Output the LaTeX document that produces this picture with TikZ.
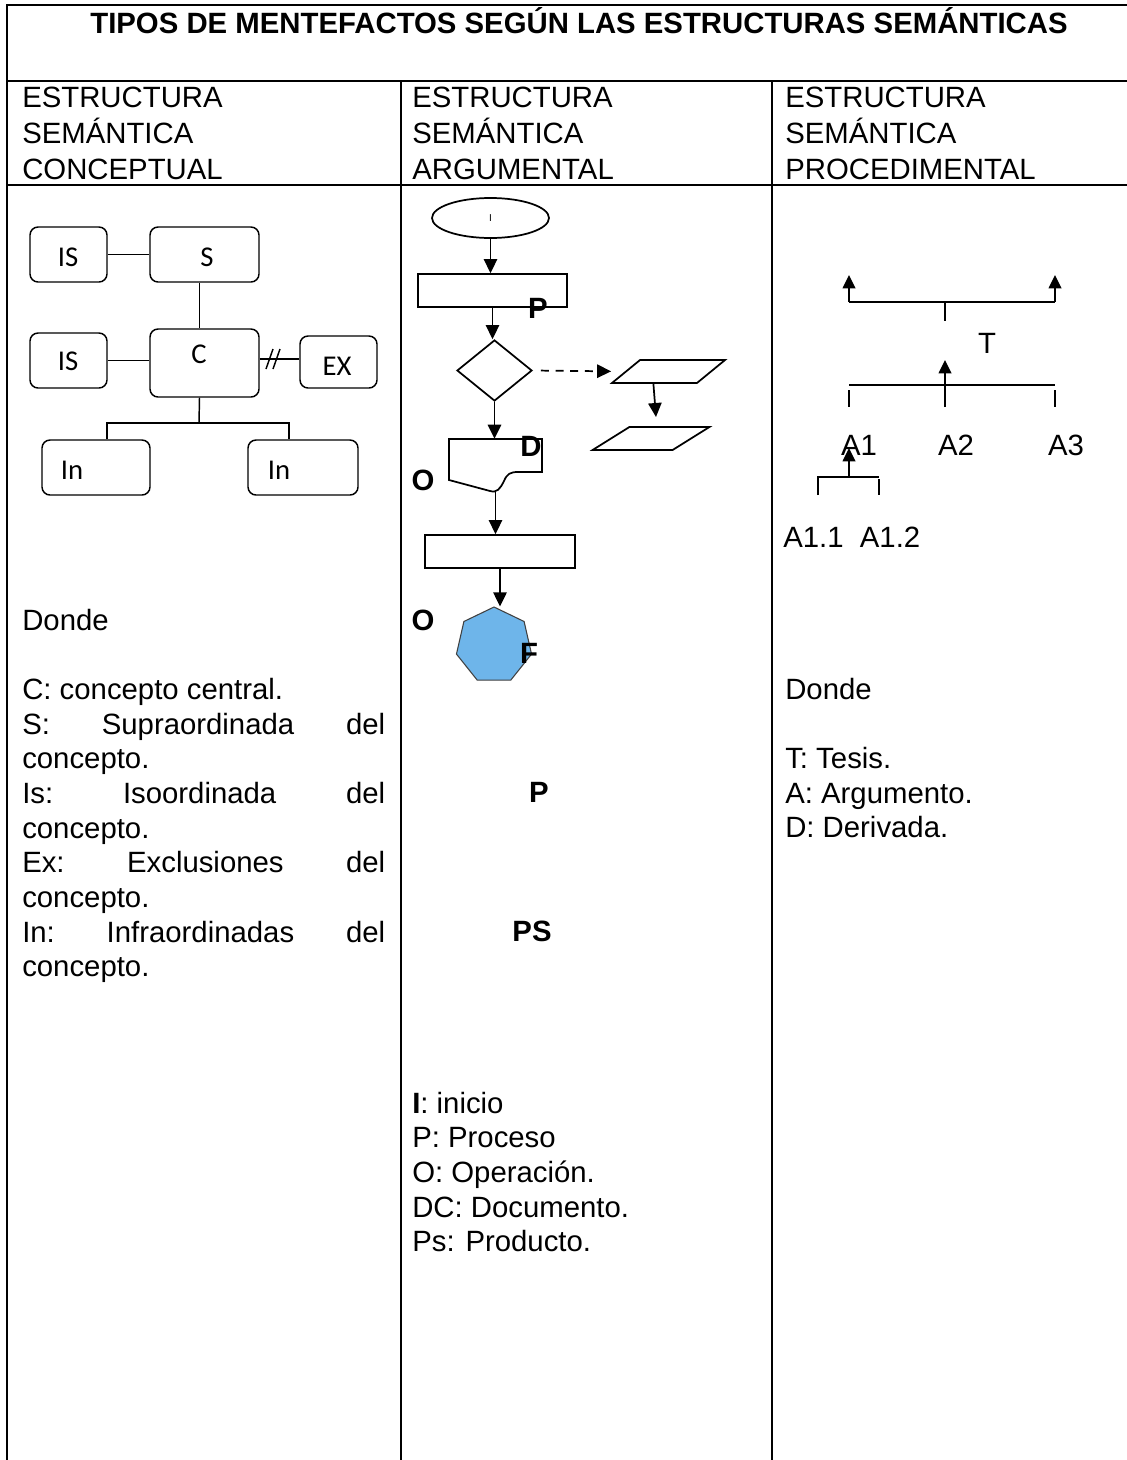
\documentclass[tikz,border=0pt]{standalone}
\usepackage{fontspec}
\setmainfont{Liberation Sans}
\newfontfamily\calib{Carlito}
\usetikzlibrary{arrows.meta,shapes.geometric,calc}
\newcommand\pxu{0.75pt}
\newlength\colw
\setlength\colw{272.25pt}
\definecolor{hept}{RGB}{110,181,234}
\begin{document}
\begin{tikzpicture}[x=0.75pt,y=-0.75pt,
 txt/.style={inner sep=0, font=\fontsize{22}{26}\selectfont},
 hdr/.style={inner sep=0, font=\fontsize{22}{27}\selectfont},
 lbl/.style={inner sep=0, font=\bfseries\fontsize{22}{26}\selectfont},
 cbx/.style={draw, line width=1.1pt, rounded corners=6pt, inner sep=0},
 clab/.style={inner sep=0, font=\calib\fontsize{21.5}{24}\selectfont},
 fl/.style={draw, line width=1.3pt, inner sep=0},
 arr/.style={line width=1.3pt, -{Triangle[width=10pt,length=10.5pt]}},
 arrt/.style={line width=1.2pt, -{Triangle[width=9.5pt,length=10pt]}},
 tbl/.style={line width=1.5pt},
 ln/.style={line width=1.1pt}]
\useasboundingbox (0,0) rectangle (1127,1460);
\fill[white] (0,0) rectangle (1127,1460);
% table
\draw[tbl] (7,1465) -- (7,5) -- (1132,5);
\draw[tbl] (7,81) -- (1132,81);
\draw[tbl] (7,185) -- (1132,185);
\draw[tbl] (401,81) -- (401,1465);
\draw[tbl] (772,81) -- (772,1465);
% title and headers
\node[lbl, anchor=base] (title) at (579,33) {TIPOS DE MENTEFACTOS SEGÚN LAS ESTRUCTURAS SEMÁNTICAS};
\node[hdr, anchor=base west] (h1) at (22,107) {\vtop{\hbox{ESTRUCTURA}\hbox{SEMÁNTICA}\hbox{CONCEPTUAL}}};
\node[hdr, anchor=base west] (h2) at (412,107) {\vtop{\hbox{ESTRUCTURA}\hbox{SEMÁNTICA}\hbox{ARGUMENTAL}}};
\node[hdr, anchor=base west] (h3) at (785,107) {\vtop{\hbox{ESTRUCTURA}\hbox{SEMÁNTICA}\hbox{PROCEDIMENTAL}}};
% concept map
\node[cbx, minimum width=77*\pxu, minimum height=55*\pxu] (is1) at (68.5,254.5) {};
\node[cbx, minimum width=109*\pxu, minimum height=55*\pxu] (s) at (204.5,254.5) {};
\node[cbx, minimum width=77*\pxu, minimum height=55*\pxu] (is2) at (68.5,360.5) {};
\node[cbx, minimum width=109*\pxu, minimum height=68*\pxu] (c) at (204.5,363) {};
\node[cbx, minimum width=77*\pxu, minimum height=52*\pxu] (ex) at (338.5,362) {};
\node[cbx, minimum width=108*\pxu, minimum height=55*\pxu] (in1) at (96,467.5) {};
\node[cbx, minimum width=110*\pxu, minimum height=55*\pxu] (in2) at (303,467.5) {};
\node[clab, anchor=base] (lis1) at (68,266) {IS};
\node[clab, anchor=base] (ls) at (207,266) {S};
\node[clab, anchor=base] (lis2) at (68,370) {IS};
\node[clab, anchor=base] (lc) at (199,363) {C};
\node[clab, anchor=base] (lex) at (337,375) {EX};
\node[clab, anchor=base] (lin1) at (72,479) {In};
\node[clab, anchor=base] (lin2) at (279,479) {In};
\draw[ln] (is1.east) -- (s.west);
\draw[ln] ([xshift=-5*\pxu]s.south) -- ([xshift=-5*\pxu]c.north);
\draw[ln] (is2.east) -- (is2.east -| c.west);
\draw[ln] ([yshift=4*\pxu]c.east) -- ([yshift=4*\pxu]c.east -| ex.west);
\draw[ln] (266,369) -- (273,349);
\draw[ln] (273,369) -- (280,349);
\coordinate (jn) at (199,423);
\draw[ln] ([xshift=-5*\pxu]c.south) -- (jn);
\draw[ln] ([xshift=11*\pxu]in1.north) |- (jn) -| ([xshift=-14*\pxu]in2.north);
% flowchart
\node[fl, ellipse, minimum width=117*\pxu, minimum height=40*\pxu, font=\fontsize{7.5}{9}\selectfont] (st) at (490.5,218) {I};
\node[fl, rectangle, minimum width=149*\pxu, minimum height=33*\pxu] (p1) at (492.5,290.5) {};
\node[fl, diamond, minimum width=75*\pxu, minimum height=61*\pxu] (dec) at (494.5,370.5) {};
\node[fl, minimum width=85*\pxu, minimum height=23*\pxu, xslant=1.22] (pa) at (668.5,371.5) {};
\node[fl, minimum width=80*\pxu, minimum height=23*\pxu, xslant=1.6] (pb) at (651,438.5) {};
\node[inner sep=0, minimum width=93*\pxu, minimum height=53*\pxu] (doc) at (495.5,465.5) {};
\draw[line width=1.3pt] (449,439) -- (542,439) -- (542,472) -- (518,472)
  .. controls (510,472) and (507,474) .. (504,481)
  .. controls (500,489) and (497,493) .. (490,491) -- (449,480) -- cycle;
\node[fl, minimum width=150*\pxu, minimum height=33*\pxu] (r2) at (500,551.5) {};
\node[regular polygon, regular polygon sides=7, minimum size=77*\pxu, inner sep=0, fill=hept, draw=black!75, line width=0.8pt] (hp) at (494,645.5) {};
\draw[arr] (st.south) -- (st.south |- p1.north);
\draw[arr] (p1.south) -- (p1.south |- dec.north);
\draw[arr, dash pattern=on 6pt off 5pt, shorten <=8*\pxu, shorten >=14*\pxu] (dec.east) -- (pa.west);
\coordinate (pbt) at (656,417);
\draw[arr] (pa.south) -- (pbt);
\draw[arr] (dec.south) -- (dec.south |- doc.north);
\draw[arr] (doc.south) -- (doc.south |- r2.north);
\draw[arr] (r2.south) -- (r2.south |- hp.north);
\node[lbl, anchor=base] (lp1) at (538,318) {P};
\node[lbl, anchor=base] (ld) at (531,456) {D};
\node[lbl, anchor=base] (lo1) at (423,490) {O};
\node[lbl, anchor=base] (lo2) at (423,630) {O};
\node[lbl, anchor=base] (lf) at (529,663) {F};
\node[lbl, anchor=base] (lp2) at (539,802) {P};
\node[lbl, anchor=base] (lps) at (532,941) {PS};
% procedural structure
\coordinate (tl) at (849,302); \coordinate (tr) at (1055,302); \coordinate (tc) at (945,302);
\coordinate (tlt) at (849,275); \coordinate (trt) at (1055,275); \coordinate (tcb) at (945,321);
\draw[ln] (tl) -- (tr);
\draw[arrt] (tl) -- (tlt);
\draw[arrt] (tr) -- (trt);
\draw[ln] (tc) -- (tcb);
\draw[ln] (849,385) -- (1055,385);
\draw[ln] (849,390) -- (849,407);
\draw[ln] (1055,390) -- (1055,407);
\coordinate (mb) at (945,407); \coordinate (mt) at (945,360);
\draw[arrt] (mb) -- (mt);
\node[txt, anchor=base] (lt) at (987,353) {T};
\node[txt, anchor=base] (la1) at (859,455) {A1};
\node[txt, anchor=base] (la2) at (956,455) {A2};
\node[txt, anchor=base] (la3) at (1066,455) {A3};
\coordinate (sb) at (849,477); \coordinate (st2) at (849,448);
\draw[arrt] (sb) -- (st2);
\draw[ln] (818,495) -- (818,477) -- (879,477);
\draw[ln] (879,479) -- (879,495);
\node[txt, anchor=base west] (la11) at (783,547) {A1.1\ \ A1.2};
% legends
\node[txt, anchor=base west] (leg1) at (22,630) {\vtop{\hbox{Donde}\hbox{}\hbox{C: concepto central.}%
\hbox to \colw{S:\hfill Supraordinada\hfill del}\hbox{concepto.}%
\hbox to \colw{Is:\hfill Isoordinada\hfill del}\hbox{concepto.}%
\hbox to \colw{Ex:\hfill Exclusiones\hfill del}\hbox{concepto.}%
\hbox to \colw{In:\hfill Infraordinadas\hfill del}\hbox{concepto.}}};
\node[txt, anchor=base west] (leg2) at (412,1113) {\vtop{\hbox{\textbf{I}: inicio}\hbox{P: Proceso}\hbox{O: Operación.}\hbox{DC: Documento.}\hbox{Ps: Producto.}}};
\node[txt, anchor=base west] (leg3) at (785,699) {\vtop{\hbox{Donde}\hbox{}\hbox{T: Tesis.}\hbox{A: Argumento.}\hbox{D: Derivada.}}};
\end{tikzpicture}
\end{document}
